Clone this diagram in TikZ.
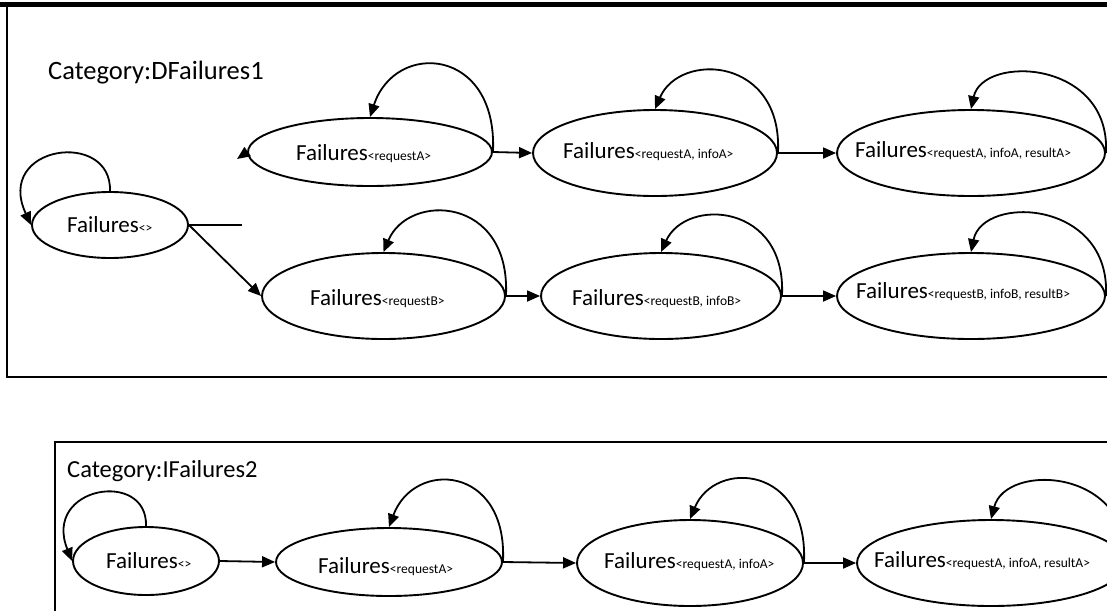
\documentclass[tikz,border=0pt]{standalone}
\usepackage{fontspec}
\setmainfont{Carlito}
\usetikzlibrary{shapes.geometric,arrows.meta}
\newcommand\mainsz{\fontsize{23}{26}\selectfont}
\newcommand\subtxt[1]{{\fontsize{13.5}{15}\selectfont #1}}
\begin{document}
\begin{tikzpicture}[x=1pt,y=-1pt,
  state/.style={draw, ellipse, line width=1.9pt, inner sep=0pt},
  lbl/.style={anchor=base west, inner sep=0pt, font=\mainsz},
  title/.style={anchor=base west, inner sep=0pt},
  link/.style={line width=1.8pt, -{Triangle[length=13pt,width=11pt]}},
  plain/.style={line width=1.8pt}]
\useasboundingbox (0,0) rectangle (1107,611);
\clip (0,0) rectangle (1107,611);

% frames of the two categories
\draw[line width=5pt] (0,4.5) -- (1107,4.5);
\draw[line width=2.5pt] (7,4) -- (7,377) -- (1107,377);
\draw[line width=2pt] (55,611) -- (55,442) -- (1107,442);

% ---- Category DFailures1 ----
\node[title, font=\fontsize{26.5}{30}\selectfont] (t1) at (48,79) {Category:DFailures1};

\node[state, minimum width=156pt, minimum height=66pt] (F0) at (110,225) {};
\node[state, minimum width=244pt, minimum height=68pt] (A1) at (370,152) {};
\node[state, minimum width=244pt, minimum height=86pt] (A2) at (655,153) {};
\node[state, minimum width=268pt, minimum height=86pt] (A3) at (971,153) {};
\node[state, minimum width=243pt, minimum height=86pt] (B1) at (383.5,296) {};
\node[state, minimum width=240pt, minimum height=86pt] (B2) at (661,296) {};
\node[state, minimum width=268pt, minimum height=86pt] (B3) at (971,296) {};

\node[lbl] (F0t) at (67,232) {Failures\subtxt{<>}};
\node[lbl] (A1t) at (296,160) {Failures\subtxt{<requestA>}};
\node[lbl] (A2t) at (563,158) {Failures\subtxt{<requestA, infoA>}};
\node[lbl] (A3t) at (855,157) {Failures\subtxt{<requestA, infoA, resultA>}};
\node[lbl] (B1t) at (310,305) {Failures\subtxt{<requestB>}};
\node[lbl] (B2t) at (572,305) {Failures\subtxt{<requestB, infoB>}};
\node[lbl] (B3t) at (856,298) {Failures\subtxt{<requestB, infoB, resultB>}};

\coordinate (stub) at (242,225);
\coordinate (lone) at (237,159);

\draw[link] (F0.north) .. controls +(2,-62) and +(-37,-80) .. (F0.west);
\draw[plain] (F0.east) -- (stub);
\draw[link] (A1.west) -- (lone);
\draw[link] (F0.east) -- (B1.west);

\draw[link] (A1.east) -- (A2.west);
\draw[link] (A2.east) -- (A3.west);
\draw[link] (B1.east) -- (B2.west);
\draw[link] (B2.east) -- (B3.west);

\draw[link] (A1.east) .. controls +(5,-105) and +(25,-77) .. (A1.north);
\draw[link] (A2.east) .. controls +(5,-96) and +(25,-58) .. (A2.north);
\draw[link] (A3.east) .. controls +(5,-93) and +(12,-55) .. (A3.north);
\draw[link] (B1.east) .. controls +(5,-100) and +(25,-60) .. (B1.north);
\draw[link] (B2.east) .. controls +(5,-93) and +(25,-55) .. (B2.north);
\draw[link] (B3.east) .. controls +(5,-96) and +(12,-58) .. (B3.north);

% ---- Category IFailures2 ----
\node[title, font=\fontsize{24.5}{28}\selectfont] (t2) at (67,477) {Category:IFailures2};

\node[state, minimum width=146pt, minimum height=68pt] (G0) at (146,561) {};
\node[state, minimum width=226pt, minimum height=68pt] (G1) at (389,562) {};
\node[state, minimum width=226pt, minimum height=86pt] (G2) at (690,563) {};
\node[state, minimum width=268pt, minimum height=86pt] (G3) at (991,563) {};

\node[lbl] (G0t) at (106,568) {Failures\subtxt{<>}};
\node[lbl] (G1t) at (318,573) {Failures\subtxt{<requestA>}};
\node[lbl] (G2t) at (604,568) {Failures\subtxt{<requestA, infoA>}};
\node[lbl] (G3t) at (874,567) {Failures\subtxt{<requestA, infoA, resultA>}};

\draw[link] (G0.north) .. controls +(2,-57) and +(-30,-75) .. (G0.west);
\draw[link] (G0.east) -- (G1.west);
\draw[link] (G1.east) -- (G2.west);
\draw[link] (G2.east) -- (G3.west);

\draw[link] (G1.east) .. controls +(5,-97) and +(25,-68) .. (G1.north);
\draw[link] (G2.east) .. controls +(5,-98) and +(25,-60) .. (G2.north);
\draw[link] (G3.east) .. controls +(5,-95) and +(15,-57) .. (G3.north);
\end{tikzpicture}
\end{document}
